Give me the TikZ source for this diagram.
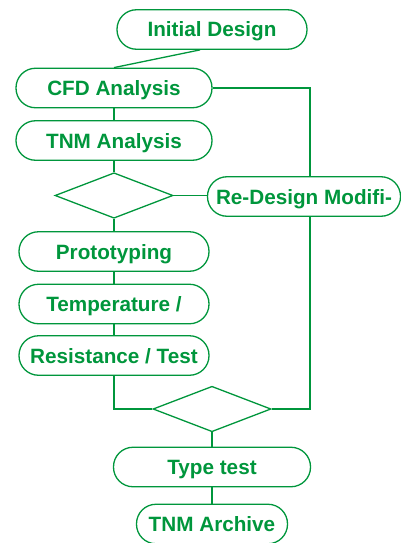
\documentclass[tikz,border=0pt]{standalone}
\usepackage{fontspec}
\setmainfont{Liberation Sans}
\usetikzlibrary{shapes.geometric,positioning}
\definecolor{flowgreen}{RGB}{0,150,60}

\begin{document}
\begin{tikzpicture}[x=1pt, y=-1pt,
    every node/.style={draw=flowgreen, line width=1.3pt, text=flowgreen, font=\fontsize{20.7}{24}\selectfont\bfseries},
    stepbox/.style={rectangle, rounded corners=19.5pt, minimum height=39.5pt, inner sep=0pt, text height=15pt, text depth=0pt},
    choice/.style={diamond, minimum width=118pt, minimum height=45.5pt, inner sep=0pt},
    link/.style={draw=flowgreen, line width=1.3pt},
    ]
  \useasboundingbox (0,0) rectangle (400,543);

  \node[stepbox, minimum width=190pt] (init) at (212,29.5) {Initial Design};
  \node[stepbox, minimum width=196pt] (cfd) at (114,88) {CFD Analysis};
  \node[stepbox, minimum width=196pt] (tnm) at (114,140.5) {TNM Analysis};
  \node[choice] (check) at (114,195.5) {};
  \node[stepbox, minimum width=193pt] (redesign) at (304,196.5) {Re-Design Modifi-};
  \node[stepbox, minimum width=190pt] (proto) at (114,251.5) {Prototyping};
  \node[stepbox, minimum width=190pt] (temp) at (114,304) {Temperature /};
  \node[stepbox, minimum width=190pt] (resist) at (114,355.5) {Resistance / Test};
  \node[choice] (verify) at (212,409) {};
  \node[stepbox, minimum width=197pt] (typetest) at (212,467) {Type test};
  \node[stepbox, minimum width=151pt] (archive) at (212,524) {TNM Archive};

  \draw[link] ([xshift=-12pt]init.south) -- (cfd.north);
  \draw[link] (cfd) -- (tnm);
  \draw[link] (tnm) -- (check);
  \draw[link] (check.east) -- (check.east -| redesign.west);
  \draw[link] (cfd.east) -| ([xshift=6pt]redesign.north);
  \draw[link] (check) -- (proto);
  \draw[link] (proto) -- (temp);
  \draw[link] (temp) -- (resist);
  \draw[link] (resist.south) |- (verify.west);
  \draw[link] ([xshift=6pt]redesign.south) |- (verify.east);
  \draw[link] (verify) -- (typetest);
  \draw[link] (typetest) -- (archive);
\end{tikzpicture}
\end{document}
